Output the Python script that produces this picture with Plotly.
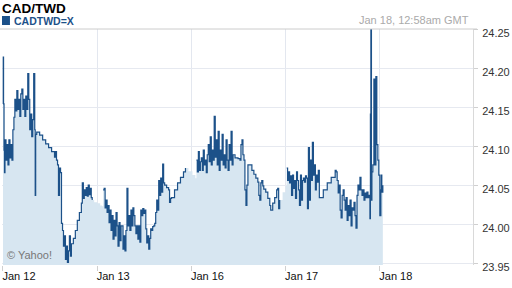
import plotly.graph_objects as go

# trading-day index (0 = Jan 12, 1 = Jan 13, 2 = Jan 16, 3 = Jan 17, 4 = Jan 18)
days = [
    0.000, 0.003, 0.006, 0.011, 0.016, 0.021, 0.032, 0.042, 0.053, 0.063, 0.074, 0.084, 0.095, 0.105,
    0.116, 0.126, 0.137, 0.147, 0.158, 0.168, 0.179, 0.189, 0.200, 0.211, 0.221, 0.232, 0.242, 0.253,
    0.263, 0.274, 0.284, 0.295, 0.305, 0.316, 0.326, 0.337, 0.342, 0.347, 0.358, 0.389, 0.421, 0.453,
    0.484, 0.516, 0.547, 0.558, 0.568, 0.579, 0.589, 0.600, 0.611, 0.621, 0.632, 0.642, 0.653, 0.663,
    0.674, 0.684, 0.695, 0.705, 0.716, 0.726, 0.747, 0.768, 0.789, 0.811, 0.832, 0.842, 0.853, 0.863,
    0.874, 0.884, 0.895, 0.905, 0.916, 0.926, 0.937, 0.947, 0.968, 1.000, 1.032, 1.053, 1.063, 1.074,
    1.084, 1.095, 1.105, 1.116, 1.126, 1.137, 1.147, 1.158, 1.168, 1.179, 1.189, 1.200, 1.211, 1.221,
    1.232, 1.242, 1.253, 1.274, 1.284, 1.295, 1.305, 1.316, 1.326, 1.337, 1.347, 1.358, 1.368, 1.379,
    1.389, 1.400, 1.411, 1.421, 1.432, 1.442, 1.453, 1.463, 1.474, 1.484, 1.495, 1.505, 1.516, 1.526,
    1.537, 1.547, 1.558, 1.568, 1.579, 1.589, 1.600, 1.611, 1.621, 1.632, 1.642, 1.653, 1.663, 1.674,
    1.684, 1.695, 1.705, 1.716, 1.737, 1.758, 1.768, 1.779, 1.789, 1.821, 1.853, 1.884, 1.916, 1.937,
    1.968, 2.011, 2.042, 2.053, 2.063, 2.074, 2.084, 2.095, 2.105, 2.116, 2.126, 2.137, 2.147, 2.158,
    2.168, 2.179, 2.189, 2.200, 2.211, 2.221, 2.232, 2.242, 2.253, 2.263, 2.274, 2.284, 2.295, 2.305,
    2.316, 2.326, 2.337, 2.347, 2.358, 2.368, 2.379, 2.389, 2.400, 2.411, 2.421, 2.432, 2.442, 2.463,
    2.495, 2.516, 2.526, 2.537, 2.547, 2.558, 2.568, 2.579, 2.589, 2.600, 2.621, 2.642, 2.663, 2.684,
    2.705, 2.716, 2.726, 2.737, 2.747, 2.758, 2.768, 2.789, 2.811, 2.832, 2.842, 2.863, 2.884, 2.905,
    2.916, 2.926, 2.937, 2.968, 3.000, 3.011, 3.021, 3.032, 3.042, 3.053, 3.063, 3.074, 3.084, 3.095,
    3.105, 3.116, 3.126, 3.137, 3.147, 3.158, 3.168, 3.179, 3.189, 3.200, 3.211, 3.221, 3.232, 3.242,
    3.253, 3.263, 3.274, 3.284, 3.295, 3.305, 3.316, 3.326, 3.337, 3.347, 3.358, 3.400, 3.442, 3.484,
    3.526, 3.537, 3.547, 3.558, 3.568, 3.579, 3.589, 3.600, 3.611, 3.621, 3.632, 3.642, 3.653, 3.663,
    3.674, 3.684, 3.695, 3.705, 3.716, 3.726, 3.737, 3.747, 3.758, 3.768, 3.779, 3.789, 3.800, 3.811,
    3.821, 3.832, 3.842, 3.853, 3.863, 3.874, 3.884, 3.895, 3.900, 3.905, 3.911, 3.916, 3.926, 3.937,
    3.947, 3.958, 3.968, 3.979, 3.989, 4.000, 4.011, 4.016, 4.021, 4.032,
]

rates = [
    24.154, 24.214, 24.154, 24.095, 24.066, 24.108, 24.082, 24.102, 24.076, 24.108, 24.085, 24.102, 24.082, 24.121,
    24.137, 24.160, 24.145, 24.171, 24.147, 24.160, 24.138, 24.167, 24.173, 24.147, 24.160, 24.138, 24.164, 24.147,
    24.193, 24.160, 24.121, 24.141, 24.112, 24.134, 24.193, 24.121, 24.037, 24.115, 24.118, 24.114, 24.108, 24.103,
    24.098, 24.093, 24.086, 24.093, 24.082, 24.076, 24.037, 24.072, 24.066, 24.001, 23.992, 23.972, 23.985, 23.955,
    23.972, 23.951, 23.966, 23.985, 23.959, 23.975, 23.982, 23.992, 24.005, 24.015, 24.027, 24.053, 24.033, 24.044,
    24.037, 24.047, 24.036, 24.050, 24.038, 24.046, 24.034, 24.031, 24.028, 24.027, 24.024, 24.023, 24.044, 24.046,
    24.021, 24.031, 24.015, 24.024, 24.002, 24.018, 23.992, 24.011, 23.981, 24.005, 23.985, 24.015, 23.998, 23.972,
    24.002, 23.979, 23.998, 23.968, 23.985, 23.966, 23.992, 24.046, 23.998, 24.011, 23.992, 24.018, 23.998, 24.021,
    24.011, 23.998, 23.988, 23.998, 23.981, 23.998, 23.977, 24.018, 24.011, 24.020, 24.014, 24.018, 23.994, 23.976,
    23.985, 23.968, 23.982, 23.994, 23.992, 23.997, 23.998, 24.001, 24.015, 24.031, 24.018, 24.056, 24.037, 24.059,
    24.041, 24.077, 24.053, 24.050, 24.047, 24.044, 24.028, 24.033, 24.034, 24.044, 24.053, 24.060, 24.067, 24.072,
    24.068, 24.063, 24.059, 24.082, 24.067, 24.093, 24.069, 24.080, 24.085, 24.069, 24.095, 24.076, 24.082, 24.066,
    24.089, 24.102, 24.080, 24.112, 24.076, 24.095, 24.082, 24.138, 24.086, 24.108, 24.076, 24.119, 24.069, 24.095,
    24.082, 24.115, 24.076, 24.089, 24.072, 24.108, 24.082, 24.069, 24.102, 24.082, 24.119, 24.076, 24.089, 24.085,
    24.084, 24.082, 24.102, 24.108, 24.089, 24.082, 24.044, 24.024, 24.050, 24.076, 24.076, 24.069, 24.064, 24.059,
    24.054, 24.037, 24.031, 24.053, 24.056, 24.049, 24.045, 24.041, 24.033, 24.024, 24.018, 24.027, 24.034, 24.044,
    24.046, 24.020, 24.031, 24.041, 24.049, 24.072, 24.056, 24.067, 24.053, 24.062, 24.037, 24.063, 24.046, 24.056,
    24.033, 24.067, 24.056, 24.044, 24.024, 24.063, 24.031, 24.056, 24.059, 24.054, 24.062, 24.059, 24.020, 24.098,
    24.031, 24.082, 24.056, 24.105, 24.063, 24.076, 24.044, 24.063, 24.054, 24.069, 24.034, 24.044, 24.053, 24.060,
    24.069, 24.067, 24.056, 24.040, 24.050, 24.018, 24.008, 24.037, 24.044, 24.031, 24.018, 24.034, 24.005, 24.024,
    24.011, 24.031, 23.998, 24.021, 24.018, 24.028, 24.011, 23.995, 24.037, 24.050, 24.044, 24.060, 24.044, 24.037,
    24.044, 24.031, 24.040, 24.034, 24.041, 24.034, 24.037, 24.007, 24.141, 24.251, 24.031, 24.067, 24.076, 24.186,
    24.076, 24.189, 24.102, 24.082, 24.063, 24.011, 24.044, 24.063, 24.041, 24.050,
]

# periods with no quotes (area shown, no line drawn), as (start, end) day index
no_quote_gaps = [(0.947, 1.063), (1.937, 2.053), (2.937, 3.011)]

tick_days = [0, 1, 2, 3, 4]
tick_labels = ["Jan 12", "Jan 13", "Jan 16", "Jan 17", "Jan 18"]
price_ticks = [23.95, 24.00, 24.05, 24.10, 24.15, 24.20, 24.25]
price_labels = ["23.95", "24.00", "24.05", "24.10", "24.15", "24.20", "24.25"]

FONT = "Liberation Sans, Arial, sans-serif"
W, H = 512, 288
L, R, T, B = 2, 36, 29, 23
pw, ph = W - L - R, H - T - B


def px(x):
    return (x - L) / pw


def py(y):
    return (H - B - y) / ph


line_rates = [
    None if any(a < d < b for a, b in no_quote_gaps) else r for d, r in zip(days, rates)
]

fig = go.Figure()
fig.add_trace(go.Scatter(
    x=days, y=rates, mode="lines", line=dict(width=0, shape="hv"),
    fill="tozeroy", fillcolor="#d7e6f1", hoverinfo="skip", showlegend=False,
))
fig.add_trace(go.Scatter(
    x=days, y=line_rates, mode="lines", line=dict(color="#1c5189", width=1.2, shape="hv"),
    connectgaps=False, hoverinfo="skip", showlegend=False,
))

fig.update_layout(
    width=W, height=H, margin=dict(l=L, r=R, t=T, b=B),
    paper_bgcolor="white", plot_bgcolor="white",
    font=dict(family=FONT, size=11, color="#222"),
    showlegend=False,
    xaxis=dict(
        range=[-0.0105, 4.989], tickmode="array", tickvals=tick_days, ticktext=tick_labels,
        showgrid=True, gridcolor="#e3e7ef", gridwidth=1, zeroline=False,
        ticks="outside", ticklen=5, tickcolor="#d0d0d0", ticklabelshift=16,
        ticklabelstandoff=-4,
        tickfont=dict(size=11, color="#111"), showline=False, fixedrange=True,
    ),
    yaxis=dict(
        range=[23.9478, 24.25], side="right", tickmode="array", tickvals=price_ticks,
        ticktext=price_labels, showgrid=True, gridcolor="#e6e9f0", gridwidth=1,
        zeroline=False, ticks="outside", ticklen=4, tickcolor="#d0d0d0",
        showline=True, linecolor="#d9d9d9", linewidth=1, ticklabelshift=4,
        ticklabelstandoff=2, tickfont=dict(size=11, color="#333"), fixedrange=True,
    ),
    shapes=[
        dict(type="line", xref="paper", yref="paper", x0=px(0), x1=px(480), y0=1, y1=1,
             line=dict(color="#cccccc", width=1)),
        dict(type="rect", xref="paper", yref="paper", x0=px(2), x1=px(10), y0=py(25), y1=py(16),
             fillcolor="#1c5189", line=dict(width=0)),
    ],
    annotations=[
        dict(text="<b>CAD/TWD</b>", xref="paper", yref="paper", x=px(0), y=py(8),
             xanchor="left", yanchor="middle", showarrow=False,
             font=dict(family=FONT, size=13.5, color="#000")),
        dict(text="<b>CADTWD=X</b>", xref="paper", yref="paper", x=px(12), y=py(21),
             xanchor="left", yanchor="middle", showarrow=False,
             font=dict(family=FONT, size=10.5, color="#1c5189")),
        dict(text="Jan 18, 12:58am GMT", xref="paper", yref="paper", x=px(474), y=py(20),
             xanchor="right", yanchor="middle", showarrow=False,
             font=dict(family=FONT, size=11, color="#aaaaaa")),
        dict(text="© Yahoo!", xref="paper", yref="paper", x=px(5), y=py(255),
             xanchor="left", yanchor="middle", showarrow=False,
             font=dict(family=FONT, size=11, color="#777777")),
    ],
)

fig.write_html("out.html")
